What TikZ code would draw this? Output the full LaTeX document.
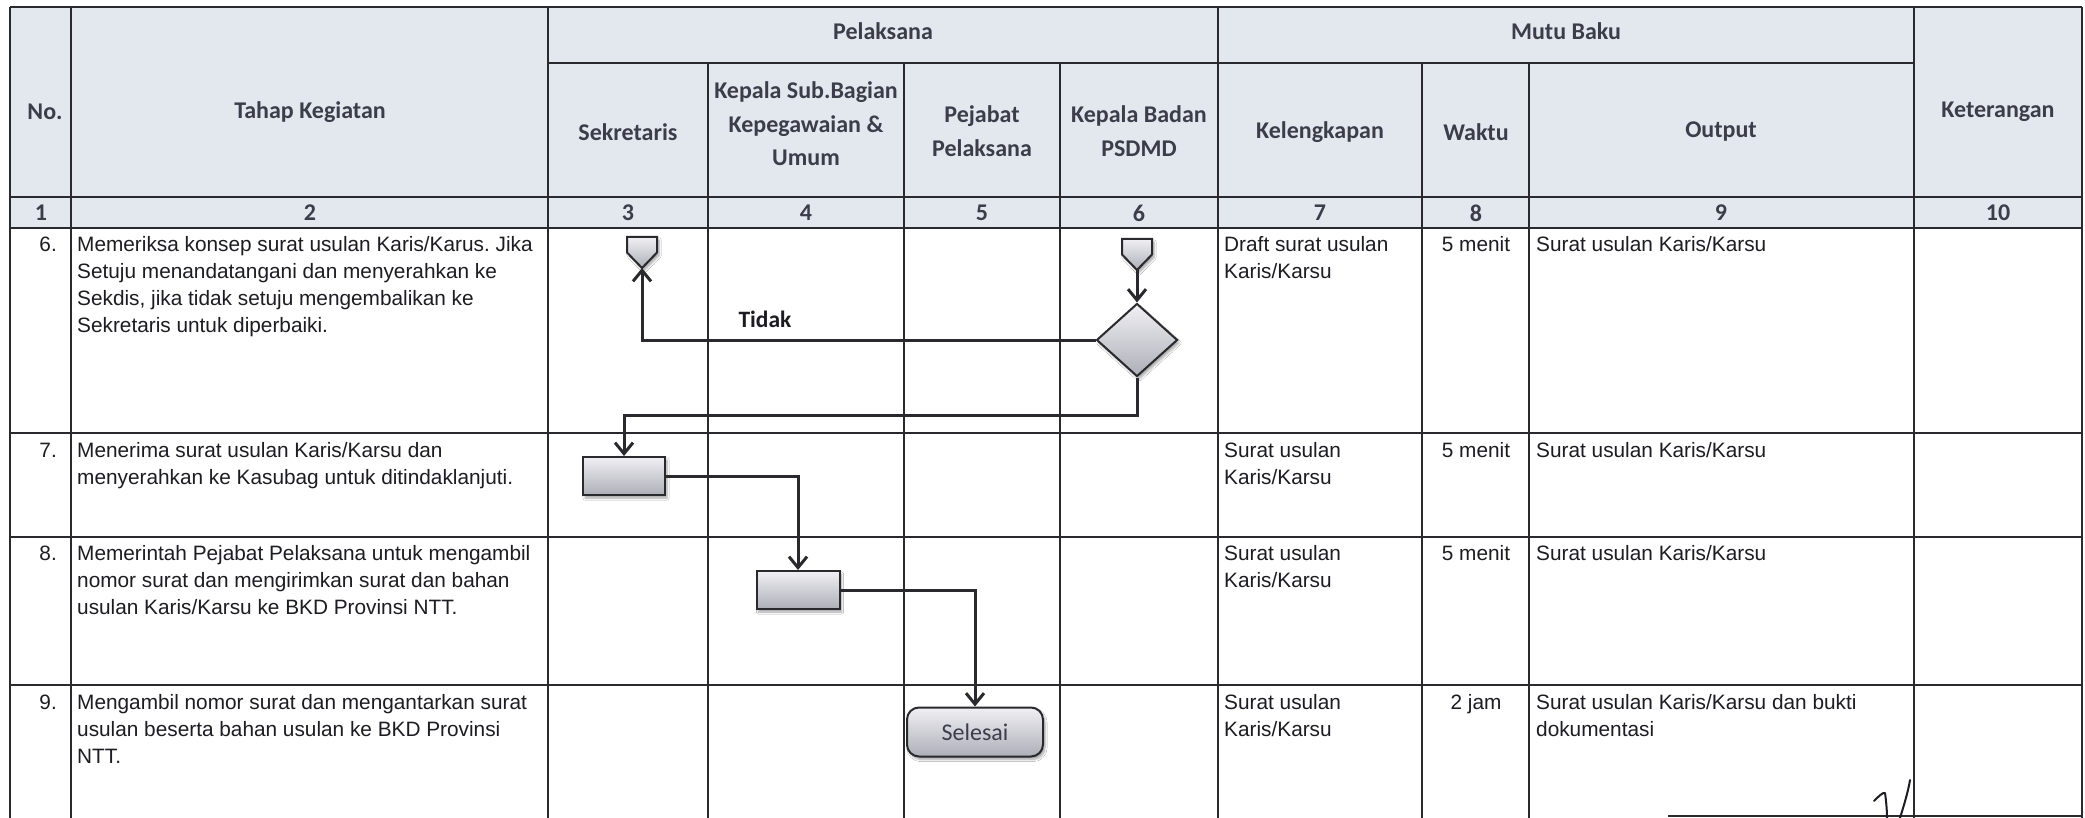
\documentclass[tikz,border=0pt]{standalone}
\usepackage{fontspec}
\setmainfont{Liberation Sans}
\newfontfamily\hdrfont{Carlito}
\usetikzlibrary{shapes.geometric,arrows.meta,shadows.blur}
\frenchspacing

\definecolor{gridline}{HTML}{2A2A2E}
\definecolor{headbg}{HTML}{E3E8EE}
\definecolor{headtxt}{HTML}{3B3E4A}
\definecolor{bodytxt}{HTML}{1C1C22}
\definecolor{shapetop}{HTML}{F0F0F4}
\definecolor{shapebot}{HTML}{AEAEB8}

% stacked lines of cell text; the reference point is the first baseline
\newcommand{\celllines}[1]{\vtop{\baselineskip=27pt\lineskiplimit=-30pt\lineskip=0pt #1}}

\tikzset{
  tableline/.style={draw=gridline, line width=2.4pt},
  hdr/.style={font=\hdrfont\bfseries\fontsize{24}{33.5}\selectfont, text=headtxt, align=center, inner sep=0pt},
  celltxt/.style={font=\fontsize{20.8}{27}\selectfont, text=bodytxt, inner sep=0pt, anchor=base west},
  wkt/.style={font=\fontsize{20.8}{27}\selectfont, text=bodytxt, inner sep=0pt, anchor=base},
  fbox/.style={draw=gridline, line width=2pt, top color=shapetop, bottom color=shapebot,
    blur shadow={shadow xshift=2pt, shadow yshift=-3pt, shadow blur steps=6, shadow opacity=35}},
  conn/.style={minimum width=30pt, minimum height=31pt, inner sep=0pt, outer sep=0pt},
  farrow/.style={draw=gridline, line width=3pt, -{Straight Barb[length=11pt,width=18pt]}},
}

\begin{document}
\begin{tikzpicture}[x=1pt,y=-1pt]
\useasboundingbox (0,0) rectangle (2085,818);
\fill[white] (0,0) rectangle (2085,818);

% header band
\fill[headbg] (10,7) rectangle (2082,228);

% horizontal rules
\draw[tableline] (10,7) -- (2082,7);
\draw[tableline] (548,63) -- (1914,63);
\draw[tableline] (10,197) -- (2082,197);
\draw[tableline] (10,228) -- (2082,228);
\draw[tableline] (10,433) -- (2082,433);
\draw[tableline] (10,537) -- (2082,537);
\draw[tableline] (10,685) -- (2082,685);
\draw[tableline] (1668,816) -- (2082,816);

% vertical rules
\foreach \xx in {10,71,548,1218,1914,2082}
  \draw[tableline] (\xx,7) -- (\xx,818);
\foreach \xx in {708,904,1060,1422,1529}
  \draw[tableline] (\xx,63) -- (\xx,818);

% header captions
\node[hdr] (hno)  at (45,112)   {No.};
\node[hdr] (htk)  at (310,112)  {Tahap Kegiatan};
\node[hdr] (hpl)  at (883,31)   {Pelaksana};
\node[hdr] (hmb)  at (1566,31)  {Mutu Baku};
\node[hdr] (hket) at (1998,112) {Keterangan};
\node[hdr] (hsek) at (628,132)  {Sekretaris};
\node[hdr] (hksb) at (806,124)  {Kepala Sub.Bagian\\Kepegawaian \&\\Umum};
\node[hdr] (hpp)  at (982,131)  {Pejabat\\Pelaksana};
\node[hdr] (hkb)  at (1139,131) {Kepala Badan\\PSDMD};
\node[hdr] (hkel) at (1320,132) {Kelengkapan};
\node[hdr] (hwkt) at (1476,132) {Waktu};
\node[hdr] (hout) at (1721,132) {Output};

% column numbers
\node[hdr] (n1)  at (41,213)   {1};
\node[hdr] (n2)  at (310,213)  {2};
\node[hdr] (n3)  at (628,213)  {3};
\node[hdr] (n4)  at (806,213)  {4};
\node[hdr] (n5)  at (982,213)  {5};
\node[hdr] (n6)  at (1139,213) {6};
\node[hdr] (n7)  at (1320,213) {7};
\node[hdr] (n8)  at (1476,213) {8};
\node[hdr] (n9)  at (1721,213) {9};
\node[hdr] (n10) at (1998,213) {10};

% step 6
\node[celltxt, anchor=base east] (s6) at (57,252) {6.};
\node[celltxt] (t6) at (77,252) {\celllines{%
  \hbox{Memeriksa konsep surat usulan Karis/Karus. Jika}%
  \hbox{Setuju menandatangani dan menyerahkan ke}%
  \hbox{Sekdis, jika tidak setuju mengembalikan ke}%
  \hbox{Sekretaris untuk diperbaiki.}}};
\node[celltxt] (k6) at (1224,252) {\celllines{\hbox{Draft surat usulan}\hbox{Karis/Karsu}}};
\node[wkt] (w6) at (1476,252) {5 menit};
\node[celltxt] (o6) at (1536,252) {Surat usulan Karis/Karsu};

% step 7
\node[celltxt, anchor=base east] (s7) at (57,457) {7.};
\node[celltxt] (t7) at (77,457) {\celllines{%
  \hbox{Menerima surat usulan Karis/Karsu dan}%
  \hbox{menyerahkan ke Kasubag untuk ditindaklanjuti.}}};
\node[celltxt] (k7) at (1224,457) {\celllines{\hbox{Surat usulan}\hbox{Karis/Karsu}}};
\node[wkt] (w7) at (1476,457) {5 menit};
\node[celltxt] (o7) at (1536,457) {Surat usulan Karis/Karsu};

% step 8
\node[celltxt, anchor=base east] (s8) at (57,560) {8.};
\node[celltxt] (t8) at (77,560) {\celllines{%
  \hbox{Memerintah Pejabat Pelaksana untuk mengambil}%
  \hbox{nomor surat dan mengirimkan surat dan bahan}%
  \hbox{usulan Karis/Karsu ke BKD Provinsi NTT.}}};
\node[celltxt] (k8) at (1224,560) {\celllines{\hbox{Surat usulan}\hbox{Karis/Karsu}}};
\node[wkt] (w8) at (1476,560) {5 menit};
\node[celltxt] (o8) at (1536,560) {Surat usulan Karis/Karsu};

% step 9
\node[celltxt, anchor=base east] (s9) at (57,709) {9.};
\node[celltxt] (t9) at (77,709) {\celllines{%
  \hbox{Mengambil nomor surat dan mengantarkan surat}%
  \hbox{usulan beserta bahan usulan ke BKD Provinsi}%
  \hbox{NTT.}}};
\node[celltxt] (k9) at (1224,709) {\celllines{\hbox{Surat usulan}\hbox{Karis/Karsu}}};
\node[wkt] (w9) at (1476,709) {2 jam};
\node[celltxt] (o9) at (1536,709) {\celllines{\hbox{Surat usulan Karis/Karsu dan bukti}\hbox{dokumentasi}}};

% flow shapes
\node[conn] (c1) at (642,252.5) {};
\path[fbox] (c1.north west) -- (c1.north east) -- (c1.east) -- (c1.south) -- (c1.west) -- cycle;
\node[conn] (c2) at (1137,254.5) {};
\path[fbox] (c2.north west) -- (c2.north east) -- (c2.east) -- (c2.south) -- (c2.west) -- cycle;

\node[fbox, diamond, minimum width=81pt, minimum height=73pt, inner sep=0pt] (d) at (1137,340) {};
\node[fbox, minimum width=82pt, minimum height=38pt, inner sep=0pt] (r7) at (624,476) {};
\node[fbox, minimum width=83pt, minimum height=38pt, inner sep=0pt] (r8) at (798,590) {};
\node[fbox, rounded corners=12pt, minimum width=136pt, minimum height=49pt, inner sep=0pt,
      font=\hdrfont\fontsize{24}{28}\selectfont, text=headtxt] (sel) at (975,732) {Selesai};

\node[font=\hdrfont\bfseries\fontsize{23.5}{28}\selectfont, text=bodytxt, inner sep=0pt] (tidak) at (765,319) {Tidak};

\coordinate (t1) at (624,415);

% connectors
\draw[farrow] (c2.south) -- (d.north);
\draw[farrow] (d.west) -| (c1.south);
\draw[farrow] (d.south) |- (t1) -- (r7.north);
\draw[farrow] (r7.east) -| (r8.north);
\draw[farrow] (r8.east) -| (sel.north);

% initials at the lower right
\draw[bodytxt, line width=2pt, line cap=round, line join=round]
  (1874,801) .. controls (1879,796) and (1883,792) .. (1885,793) .. controls (1886,800) and (1887,810) .. (1887,818);
\draw[bodytxt, line width=2pt, line cap=round] (1900,818) .. controls (1904,805) and (1908,792) .. (1910,780);
\end{tikzpicture}
\end{document}
